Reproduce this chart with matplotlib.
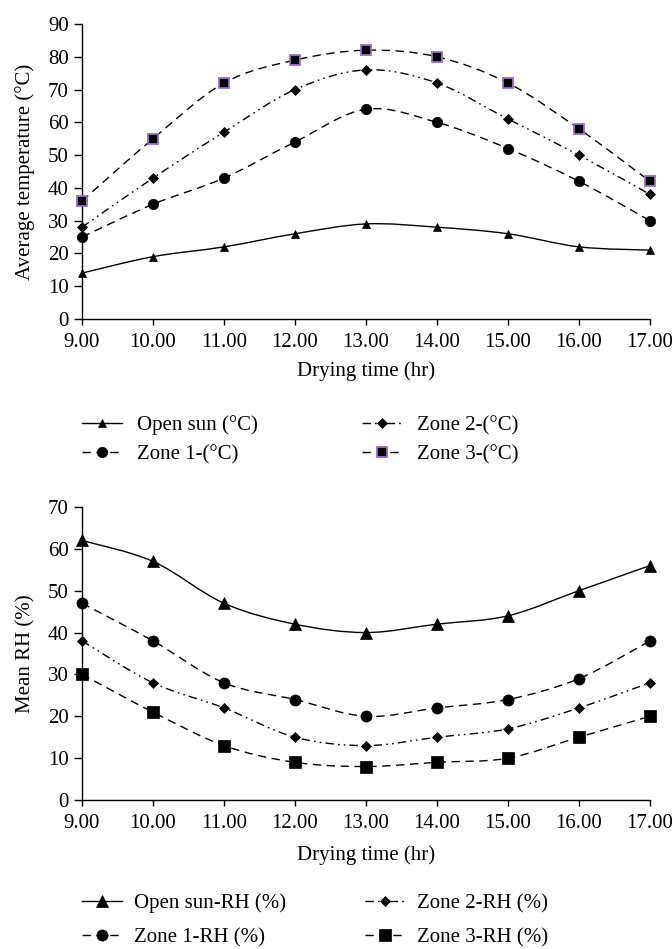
import numpy as np
import matplotlib
matplotlib.use("Agg")
from matplotlib import pyplot as plt
from matplotlib.path import Path
from matplotlib.patches import PathPatch
from matplotlib.lines import Line2D

plt.rcParams["font.family"] = ["Liberation Serif", "DejaVu Serif"]
FS = 15

hours = [9, 10, 11, 12, 13, 14, 15, 16, 17]
hour_labels = ["9.00", "10.00", "11.00", "12.00", "13.00", "14.00", "15.00", "16.00", "17.00"]

# temperature (°C)
temp_open = [14, 19, 22, 26, 29, 28, 26, 22, 21]
temp_z1 = [25, 35, 43, 54, 64, 60, 52, 42, 30]
temp_z2 = [28, 43, 57, 70, 76, 72, 61, 50, 38]
temp_z3 = [36, 55, 72, 79, 82, 80, 72, 58, 42]

# relative humidity (%)
rh_open = [62, 57, 47, 42, 40, 42, 44, 50, 56]
rh_z1 = [47, 38, 28, 24, 20, 22, 24, 29, 38]
rh_z2 = [38, 28, 22, 15, 13, 15, 17, 22, 28]
rh_z3 = [30, 21, 13, 9, 8, 9, 10, 15, 20]

temp_names = ["Open sun (°C)", "Zone 1-(°C)", "Zone 2-(°C)", "Zone 3-(°C)"]
rh_names = ["Open sun-RH (%)", "Zone 1-RH (%)", "Zone 2-RH (%)", "Zone 3-RH (%)"]

DASH = (0, (6, 4))
DASHDOTDOT = (0, (6, 3, 1.2, 3, 1.2, 3))


def smooth_path(x, y):
    # excel-like smoothed line: cubic bezier through each point
    x = np.asarray(x, float)
    y = np.asarray(y, float)
    px = np.concatenate([[x[0]], x, [x[-1]]])
    py = np.concatenate([[y[0]], y, [y[-1]]])
    verts = [(x[0], y[0])]
    codes = [Path.MOVETO]
    for i in range(1, len(x)):
        p0 = np.array([px[i - 1], py[i - 1]])
        p1 = np.array([px[i], py[i]])
        p2 = np.array([px[i + 1], py[i + 1]])
        p3 = np.array([px[i + 2], py[i + 2]])
        c1 = p1 + (p2 - p0) / 6.0
        c2 = p2 - (p3 - p1) / 6.0
        verts += [tuple(c1), tuple(c2), tuple(p2)]
        codes += [Path.CURVE4] * 3
    return Path(verts, codes)


def draw_panel(ax, series, names, styles, ymax, ylabel, xpad):
    handles = []
    for vals, name, st in zip(series, names, styles):
        patch = PathPatch(smooth_path(hours, vals), facecolor="none",
                          edgecolor="black", lw=1.0, linestyle=st["ls"])
        ax.add_patch(patch)
        ax.plot(hours, vals, linestyle="none", marker=st["marker"],
                ms=st["ms"], mfc="black", mec=st["mec"], mew=st["mew"],
                clip_on=False, zorder=3)
        handles.append(Line2D([], [], color="black", lw=1.0, linestyle=st["ls"],
                              marker=st["marker"], ms=st["ms"], mfc="black",
                              mec=st["mec"], mew=st["mew"], label=name))
    ax.set_xlim(9, 17)
    ax.set_ylim(0, ymax)
    ax.set_xticks(hours)
    ax.set_xticklabels(hour_labels)
    ax.set_yticks(np.arange(0, ymax + 1, 10))
    for s in ["top", "right"]:
        ax.spines[s].set_visible(False)
    for s in ["left", "bottom"]:
        ax.spines[s].set_linewidth(1.0)
    ax.tick_params(axis="x", direction="out", length=4, width=1.0, labelsize=FS, pad=6)
    ax.tick_params(axis="y", direction="out", length=5.5, width=1.0, labelsize=FS, pad=4)
    ax.set_xlabel("Drying time (hr)", fontsize=FS, labelpad=xpad)
    ax.set_ylabel(ylabel, fontsize=FS, labelpad=9)
    return handles


fig = plt.figure(figsize=(6.72, 9.49), dpi=100)

ax1 = fig.add_axes([0.122, 0.6639, 0.8452, 0.3108])
temp_styles = [
    dict(ls="-", marker="^", ms=6, mec="black", mew=0.5),
    dict(ls=DASH, marker="o", ms=7.5, mec="black", mew=0.5),
    dict(ls=DASHDOTDOT, marker="D", ms=5, mec="black", mew=0.5),
    dict(ls=DASH, marker="s", ms=7, mec="#9a6fc4", mew=1.3),
]
h1 = draw_panel(ax1, [temp_open, temp_z1, temp_z2, temp_z3], temp_names,
                temp_styles, 90, "Average temperature (°C)", 7)
fig.legend(handles=h1, ncol=2, loc="center left", bbox_to_anchor=(0.122, 0.5364),
           frameon=False, fontsize=FS, handlelength=1.9, handletextpad=0.75,
           columnspacing=5.0, labelspacing=0.45, borderpad=0, borderaxespad=0)

ax2 = fig.add_axes([0.122, 0.1570, 0.8452, 0.3088])
rh_styles = [
    dict(ls="-", marker="^", ms=8, mec="black", mew=0.5),
    dict(ls=DASH, marker="o", ms=8, mec="black", mew=0.5),
    dict(ls=DASHDOTDOT, marker="D", ms=5.5, mec="black", mew=0.5),
    dict(ls=DASH, marker="s", ms=8, mec="black", mew=0.5),
]
h2 = draw_panel(ax2, [rh_open, rh_z1, rh_z2, rh_z3], rh_names,
                rh_styles, 70, "Mean RH (%)", 9)
fig.legend(handles=h2, ncol=2, loc="center left", bbox_to_anchor=(0.122, 0.030),
           frameon=False, fontsize=FS, handlelength=1.9, handletextpad=0.6,
           columnspacing=3.8, labelspacing=0.7, borderpad=0, borderaxespad=0)

fig.savefig("out.png", dpi=100)
